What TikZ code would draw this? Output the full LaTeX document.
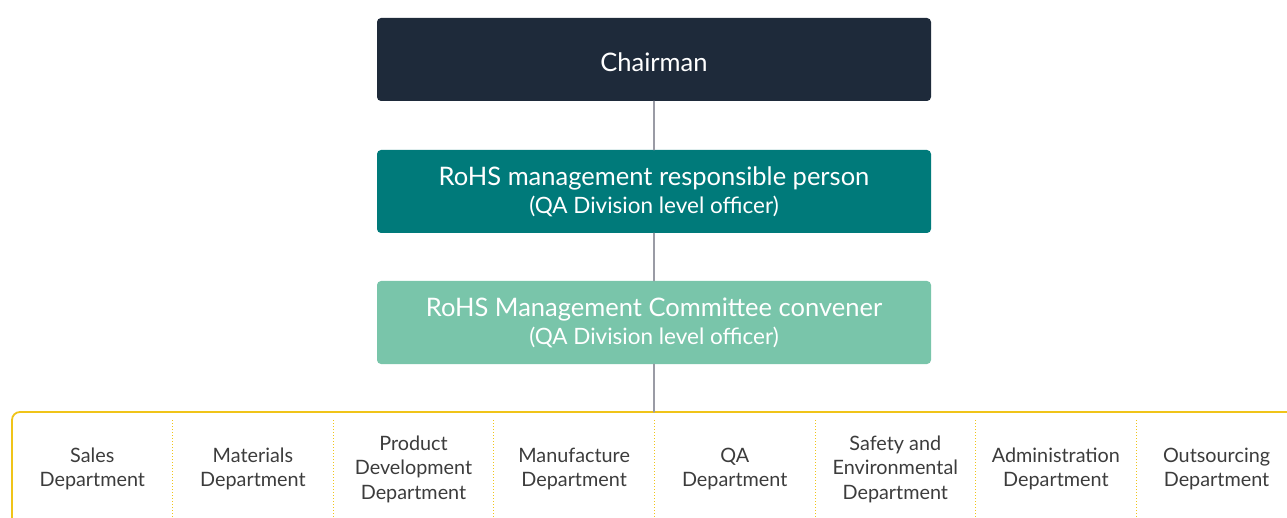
\documentclass[tikz,border=0pt]{standalone}
\usepackage{fontspec}
\setmainfont{Lato}
\definecolor{chairfill}{HTML}{1E2A3A}
\definecolor{respfill}{HTML}{007A7A}
\definecolor{convfill}{HTML}{79C5AA}
\definecolor{framegold}{HTML}{F0C419}
\definecolor{linkgrey}{HTML}{9A9BA5}
\definecolor{depttext}{HTML}{3C3C3C}
\tikzset{
  levelbox/.style={rounded corners=4pt, minimum width=554pt, minimum height=83pt,
    text=white, align=center, inner sep=0pt, font=\fontsize{25.5}{30}\selectfont},
  deptlabel/.style={align=center, text=depttext, font=\fontsize{19.8}{24.5}\selectfont},
  link/.style={draw=linkgrey, line width=1.3pt}
}
\newcommand{\officer}{{\fontsize{22.5}{30}\selectfont(QA Division level officer)}}
\begin{document}
\begin{tikzpicture}[x=1pt, y=-1pt, line join=round, line cap=round]
	\useasboundingbox (0,0) rectangle (1287,518);
	\clip (0,0) rectangle (1287,518);
	% levels
	\node[levelbox, fill=chairfill] (chair) at (654,59.5) {\raisebox{-3pt}[\height][\depth]{Chairman}};
	\node[levelbox, fill=respfill] (resp) at (654,191.5) {\raisebox{-2pt}{RoHS management responsible person}\\\officer};
	\node[levelbox, fill=convfill] (conv) at (654,322.5) {\raisebox{-2pt}{RoHS Management Committee convener}\\\officer};
	% department frame
	\draw[framegold, line width=1.8pt, rounded corners=8pt] (12,540) -- (12,412) -- (1320,412);
	\coordinate (frametop) at (654,412);
	\draw[link] (chair) -- (resp);
	\draw[link] (resp) -- (conv);
	\draw[link] (conv) -- (frametop);
	\foreach \i in {1,...,7}
		\draw[framegold, line width=1pt, dotted, line cap=butt] (12+160.6*\i,420) -- (12+160.6*\i,518);
	\foreach \n/\txt [count=\i from 0] in {sales/Sales\\Department, mat/Materials\\Department,
		prod/Product\\Development\\Department, manu/Manufacture\\Department, qa/QA\\Department,
		safe/Safety and\\Environmental\\Department, admin/Administration\\Department,
		out/Outsourcing\\Department}
		\node[deptlabel] (\n) at (92.3+160.6*\i,469) {\txt};
\end{tikzpicture}
\end{document}
